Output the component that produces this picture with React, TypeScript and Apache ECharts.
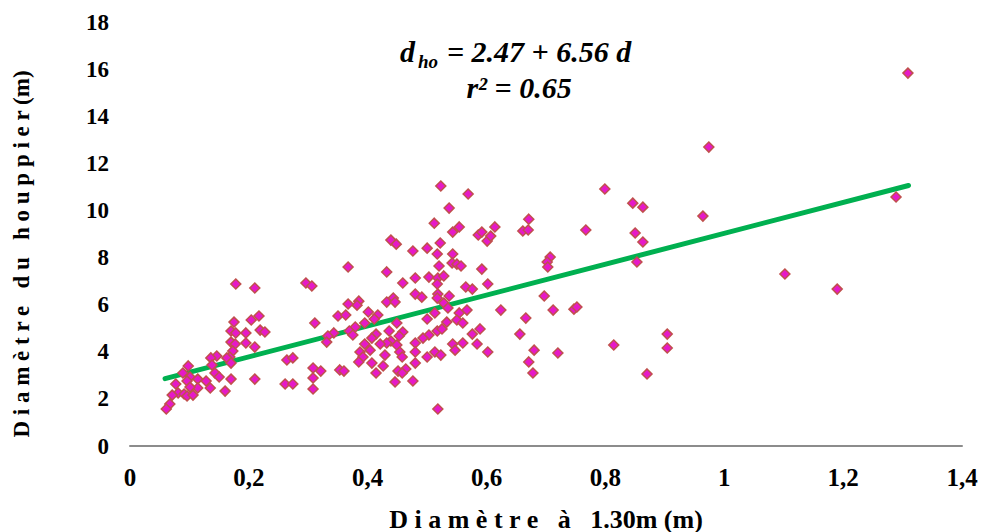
import React, { useEffect, useRef } from "react";
import * as echarts from "echarts";

// Diameter at 1.30 m (m) vs crown diameter (m), grouped by stem size
const pointsSmallStems: [number, number][] = [
  [0.178, 6.88], [0.210, 6.71], [0.175, 5.26], [0.204, 5.35], [0.217, 5.52], [0.170, 4.88],
  [0.178, 4.80], [0.195, 4.80], [0.219, 4.92], [0.227, 4.84], [0.170, 4.41], [0.177, 4.33],
  [0.195, 4.37], [0.210, 4.20], [0.173, 4.03], [0.168, 3.78], [0.163, 3.74], [0.170, 3.52],
  [0.146, 3.82], [0.136, 3.74], [0.138, 3.44], [0.098, 3.40], [0.089, 3.10], [0.101, 2.93],
  [0.096, 2.76], [0.114, 2.84], [0.128, 2.76], [0.143, 3.10], [0.150, 2.93], [0.170, 2.84],
  [0.210, 2.84], [0.135, 2.46], [0.160, 2.33], [0.114, 2.46], [0.101, 2.50], [0.077, 2.63],
  [0.081, 2.25], [0.071, 2.16], [0.091, 2.21], [0.096, 2.12], [0.106, 2.16], [0.067, 1.78],
  [0.061, 1.57],
];

const pointsMediumStems: [number, number][] = [
  [0.439, 8.74], [0.448, 8.57], [0.476, 8.28], [0.367, 7.60], [0.432, 7.39], [0.480, 7.13],
  [0.296, 6.92], [0.306, 6.79], [0.459, 6.92], [0.480, 6.45], [0.443, 6.28], [0.432, 6.11],
  [0.446, 6.11], [0.385, 6.15], [0.382, 5.98], [0.367, 6.03], [0.350, 5.52], [0.363, 5.56],
  [0.401, 5.69], [0.417, 5.56], [0.411, 5.39], [0.395, 5.22], [0.449, 5.22], [0.311, 5.22],
  [0.379, 5.05], [0.369, 4.88], [0.375, 4.71], [0.343, 4.80], [0.333, 4.67], [0.331, 4.41],
  [0.436, 4.88], [0.414, 4.75], [0.407, 4.58], [0.459, 4.84], [0.453, 4.67], [0.439, 4.46],
  [0.432, 4.37], [0.449, 4.29], [0.421, 4.33], [0.395, 4.33], [0.404, 4.07], [0.387, 3.99],
  [0.429, 3.86], [0.454, 3.99], [0.458, 3.78], [0.480, 4.37], [0.480, 3.99], [0.392, 3.78],
  [0.385, 3.57], [0.407, 3.52], [0.426, 3.40], [0.480, 3.52], [0.451, 3.18], [0.464, 3.27],
  [0.458, 3.10], [0.414, 3.10], [0.446, 2.72], [0.476, 2.76], [0.264, 3.65], [0.274, 3.74],
  [0.308, 3.31], [0.321, 3.18], [0.308, 2.89], [0.353, 3.23], [0.360, 3.18], [0.261, 2.63],
  [0.274, 2.63], [0.308, 2.42],
];

const pointsLargeStems: [number, number][] = [
  [0.523, 11.04], [0.569, 10.70], [0.537, 10.10], [0.512, 9.46], [0.543, 9.08], [0.554, 9.30],
  [0.586, 8.96], [0.592, 9.08], [0.601, 8.70], [0.607, 8.91], [0.614, 9.30], [0.522, 8.62],
  [0.500, 8.40], [0.517, 8.15], [0.543, 8.15], [0.542, 7.77], [0.550, 7.72], [0.557, 7.64],
  [0.520, 7.64], [0.592, 7.51], [0.503, 7.17], [0.518, 7.13], [0.528, 7.22], [0.517, 6.88],
  [0.602, 6.88], [0.491, 6.32], [0.518, 6.45], [0.517, 6.28], [0.537, 6.37], [0.565, 6.75],
  [0.576, 6.66], [0.528, 6.07], [0.535, 5.86], [0.567, 5.77], [0.624, 5.77], [0.513, 5.65],
  [0.500, 5.39], [0.554, 5.65], [0.533, 5.26], [0.550, 5.35], [0.560, 5.22], [0.517, 4.88],
  [0.525, 4.97], [0.589, 4.97], [0.576, 4.75], [0.503, 4.71], [0.493, 4.58], [0.584, 4.33],
  [0.543, 4.33], [0.560, 4.37], [0.547, 4.07], [0.602, 3.99], [0.513, 3.99], [0.523, 3.86],
  [0.500, 3.78], [0.518, 1.57],
];

const pointsVeryLargeStems: [number, number][] = [
  [0.671, 9.63], [0.661, 9.13], [0.670, 9.17], [0.767, 9.17], [0.707, 8.02], [0.702, 7.81],
  [0.703, 7.60], [0.697, 6.37], [0.666, 5.43], [0.712, 5.77], [0.747, 5.81], [0.752, 5.90],
  [0.656, 4.75], [0.680, 4.07], [0.720, 3.95], [0.671, 3.57], [0.678, 3.10], [0.814, 4.29],
  [0.799, 10.91], [0.846, 10.31], [0.863, 10.14], [0.964, 9.76], [0.974, 12.69], [0.850, 9.04],
  [0.863, 8.66], [0.853, 7.81], [1.102, 7.30], [1.190, 6.66], [1.289, 10.57], [0.904, 4.75],
  [0.904, 4.16], [0.870, 3.06], [1.309, 15.83],
];

// Regression line end points (d, dho)
const trendLine: [number, number][] = [
  [0.059, 2.86],
  [1.31, 11.06],
];

const xTickLabels = ["0", "0,2", "0,4", "0,6", "0,8", "1", "1,2", "1,4"];
const yTickLabels = ["0", "2", "4", "6", "8", "10", "12", "14", "16", "18"];

const xAxisTitle = "D i a m è t r e   à   1.30m (m)";
const yAxisTitle = "D i a m è t r e   d u   h o u p p i e r (m)";

const SERIF = "Liberation Serif";

export default function App() {
  const ref = useRef<HTMLDivElement>(null);

  useEffect(() => {
    if (!ref.current) return;
    const chart = echarts.init(ref.current, null, { renderer: "svg" });
    const allPoints = [
      ...pointsSmallStems,
      ...pointsMediumStems,
      ...pointsLargeStems,
      ...pointsVeryLargeStems,
    ];
    const textStyle = (size: number, italic: boolean) => ({
      fontFamily: SERIF,
      fontWeight: "bold",
      fontStyle: italic ? "italic" : "normal",
      fontSize: size,
      fill: "#000",
      textVerticalAlign: "middle",
    });
    chart.setOption({
      animation: false,
      backgroundColor: "#ffffff",
      grid: { left: 130, right: 21, top: 22, bottom: 86, containLabel: false },
      xAxis: {
        type: "value",
        min: 0,
        max: 1.4,
        interval: 0.2,
        axisLine: { show: true, lineStyle: { color: "#8c8c8c", width: 2 } },
        axisTick: { show: false },
        splitLine: { show: false },
        axisLabel: {
          margin: 19,
          fontFamily: SERIF,
          fontWeight: "bold",
          fontSize: 25,
          color: "#000",
          formatter: (v: number) => xTickLabels[Math.round(v / 0.2)] ?? "",
        },
      },
      yAxis: {
        type: "value",
        min: 0,
        max: 18,
        interval: 2,
        axisLine: { show: false },
        axisTick: { show: false },
        splitLine: { show: false },
        axisLabel: {
          margin: 21,
          fontFamily: SERIF,
          fontWeight: "bold",
          fontSize: 23,
          color: "#000",
          formatter: (v: number) => yTickLabels[Math.round(v / 2)] ?? "",
        },
      },
      series: [
        {
          type: "line",
          data: trendLine,
          symbol: "none",
          silent: true,
          z: 1,
          lineStyle: { color: "#00b050", width: 5, cap: "round" },
        },
        {
          type: "scatter",
          data: allPoints,
          symbol: "diamond",
          symbolSize: 10,
          z: 2,
          itemStyle: { color: "#e619c8", borderColor: "#c0504d", borderWidth: 1.5, opacity: 1 },
        },
      ],
      graphic: [
        {
          type: "text",
          x: 400,
          y: 51,
          style: { ...textStyle(30, true), text: "d", textAlign: "left" },
        },
        {
          type: "text",
          x: 418,
          y: 61,
          style: { ...textStyle(19, true), text: "ho", textAlign: "left" },
        },
        {
          type: "text",
          x: 447,
          y: 51,
          style: { ...textStyle(30, true), text: "= 2.47 + 6.56 d", textAlign: "left" },
        },
        {
          type: "text",
          x: 519,
          y: 87,
          style: { ...textStyle(30, true), text: "r² = 0.65", textAlign: "center" },
        },
        {
          type: "text",
          x: 546,
          y: 519,
          style: { ...textStyle(26, false), text: xAxisTitle, textAlign: "center" },
        },
        {
          type: "text",
          x: 21,
          y: 254,
          rotation: Math.PI / 2,
          style: { ...textStyle(23, false), text: yAxisTitle, textAlign: "center" },
        },
      ],
    });
    return () => chart.dispose();
  }, []);

  return (
    <div
      ref={ref}
      style={{ position: "absolute", left: 0, top: 0, width: 983, height: 532 }}
    />
  );
}
